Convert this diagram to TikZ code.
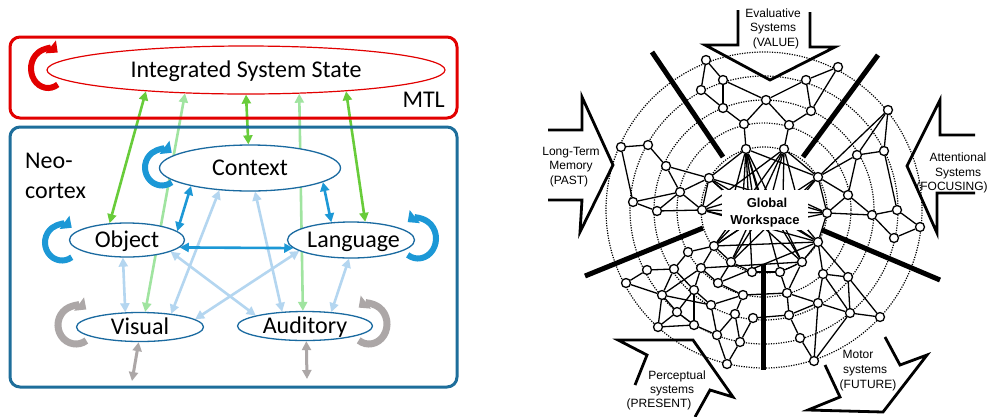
\documentclass[tikz,border=0pt]{standalone}
\usepackage{fontspec}
\setmainfont{Carlito}
\newfontfamily\arialf{Liberation Sans}
\usetikzlibrary{arrows.meta,shapes.geometric,calc}
\pgfdeclarelayer{back}
\pgfdeclarelayer{mid}
\pgfsetlayers{back,mid,main}
\definecolor{mtlred}{RGB}{226,0,0}
\definecolor{ncblue}{RGB}{30,110,155}
\definecolor{elblue}{RGB}{26,106,160}
\definecolor{dblue}{RGB}{28,152,214}
\definecolor{lblue}{RGB}{180,214,240}
\definecolor{dgreen}{RGB}{104,204,58}
\definecolor{lgreen}{RGB}{160,228,160}
\definecolor{agrey}{RGB}{172,167,167}
\begin{document}
\begin{tikzpicture}[x=1pt,y=-1pt,
  region/.style={rectangle, rounded corners=10pt, line width=3pt, inner sep=0pt},
  txt/.style={font=\fontsize{24}{30}\selectfont, inner sep=0pt},
  el/.style={ellipse, draw=elblue, line width=1.3pt, fill=white, inner sep=0pt,
    font=\fontsize{24}{30}\selectfont, text height=15.5pt, text depth=0pt},
  link/.style={arrows={Triangle[length=9pt,width=9pt]-Triangle[length=9pt,width=9pt]}, line width=2.6pt},
  loopc/.style={line width=6pt, arrows={-Triangle[length=9pt,width=16pt]}},
  nd/.style={circle, draw, line width=1.3pt, fill=white, inner sep=0pt, minimum size=9pt},
  net/.style={line width=1.3pt},
  bar/.style={line width=5pt},
  ring/.style={line width=1.2pt, dash pattern=on 1.2pt off 1.3pt},
  sysarrow/.style={line width=2.8pt, line join=miter},
  lab/.style={font=\arialf\fontsize{12}{14}\selectfont, anchor=base, inner sep=0pt},
  gwtxt/.style={font=\arialf\bfseries\fontsize{13}{15}\selectfont, anchor=base, inner sep=0pt},
]
\begin{pgfonlayer}{back}
\fill[white] (0,0) rectangle (992,416);
\end{pgfonlayer}
\useasboundingbox (0,0) rectangle (992,416);

% ================= LEFT DIAGRAM =================
\node[region, draw=mtlred, minimum width=447pt, minimum height=81pt] (mtl) at (233.5,77.5) {};
\node[region, draw=ncblue, minimum width=447pt, minimum height=260pt] (neo) at (233.5,257) {};
\node[txt, anchor=base east] (mtllab) at (445,107) {MTL};
\node[txt, anchor=base west] (neo1) at (25,168) {Neo-};
\node[txt, anchor=base west] (neo2) at (25,198) {cortex};

\node[el, draw=mtlred, line width=1.2pt, minimum width=398pt, minimum height=48pt] (iss) at (246,70) {Integrated System State};
\node[el, minimum width=181pt, minimum height=46pt] (ctx) at (250,168) {Context};
\node[el, minimum width=115pt, minimum height=34pt] (obj) at (127,240) {Object};
\node[el, minimum width=127pt, minimum height=36pt] (lang) at (351,240) {\makebox[0pt]{\hspace{5pt}Language}};
\node[el, minimum width=127pt, minimum height=29pt] (vis) at (140,327) {Visual};
\node[el, minimum width=135pt, minimum height=29pt] (aud) at (305,326) {Auditory};

\coordinate (vbot) at (132,381);
\coordinate (abot) at (307,379);

\begin{pgfonlayer}{mid}
% light blue
\draw[link, lblue] (ctx.216) -- (vis.23);
\draw[link, lblue] (ctx.282) -- (aud.148);
\draw[link, lblue] (obj.257) -- (vis.135);
\draw[link, lblue] (lang.264) -- (aud.28);
\draw[link, lblue] (obj.345) -- (aud.168);
\draw[link, lblue] (lang.192) -- (vis.8);
% light green
\draw[link, lgreen] (iss.201) -- (vis.71);
\draw[link, lgreen] (iss.336) -- (aud.98);
% dark green
\draw[link, dgreen] (iss.192) -- (obj.136);
\draw[link, dgreen] (iss.south) -- (ctx.94);
\draw[link, dgreen] (iss.348) -- (lang.52);
% dark blue
\draw[link, dblue] (ctx.197) -- (obj.10);
\draw[link, dblue] (ctx.349) -- (lang.138);
\draw[link, dblue] (obj.-8) -- (lang.188);
% grey
\draw[link, agrey, line width=3pt] (vis.265) -- (vbot);
\draw[link, agrey, line width=3pt] (aud.275) -- (abot);
\end{pgfonlayer}

% loops
\coordinate (lpR) at (48,68.5);
\coordinate (lpC) at (162,167.5);
\coordinate (lpO) at (62,242.5);
\coordinate (lpL) at (418,238.5);
\coordinate (lpV) at (76,325);
\coordinate (lpA) at (369,324);
\draw[loopc, mtlred] ($(lpR)+(55:17 and 19.5)$) arc[start angle=55, end angle=305, x radius=17, y radius=19.5];
\draw[loopc, dblue] ($(lpC)+(55:17 and 18)$) arc[start angle=55, end angle=305, x radius=17, y radius=18];
\draw[loopc, dblue] ($(lpO)+(55:17 and 18)$) arc[start angle=55, end angle=305, x radius=17, y radius=18];
\draw[loopc, dblue] ($(lpL)+(125:18 and 20)$) arc[start angle=125, end angle=-125, x radius=18, y radius=20];
\draw[loopc, agrey, line width=7pt] ($(lpV)+(55:18 and 19)$) arc[start angle=55, end angle=305, x radius=18, y radius=19];
\draw[loopc, agrey, line width=7pt] ($(lpA)+(125:18 and 20)$) arc[start angle=125, end angle=-125, x radius=18, y radius=20];

% ================= RIGHT DIAGRAM =================
\coordinate (ctr) at (764,210);
\begin{pgfonlayer}{back}
\foreach \r in {63,87,110,134,158} \draw[ring] (ctr) circle[radius=\r];
\end{pgfonlayer}

\foreach \n/\x/\y in {A1/706/60, A2/723/80, A3/701/90, A4/723/108, A5/766/100, A6/744/124, A7/789/125, A8/806/80, A9/811/111, A10/838/67, A11/746/149, A12/784/149,
 B1/621/147, B2/648/145, B3/666/166, B4/680/192, B5/709/178, B6/633/202, B7/657/211, B8/702/210,
 C1/888/110, C2/857/155, C3/884/151, C4/818/177, C5/848/195, C6/827/213, C7/872/215, C8/897/210, C9/920/227, C10/894/238,
 D1/818/242, D2/802/262, D3/823/274, D4/848/277, D5/780/272, D6/787/293, D7/818/303, D8/850/313, D9/880/317, D10/789/315, D11/800/338, D12/814/361,
 E1/714/246, E2/688/252, E3/731/262, E4/647/270, E5/626/283, E6/674/269, E7/701/268, E8/718/283, E9/752/272, E10/662/295, E11/694/290, E12/711/305, E13/677/312, E14/735/314, E15/753/318, E16/658/327, E17/694/325, E18/717/335, E19/740/342, E20/727/364, E21/743/295}
  \node[nd] (\n) at (\x,\y) {};

\node[rectangle, fill=white, inner sep=0pt, minimum width=86pt, minimum height=40pt] (gw) at (765,210) {};
\node[gwtxt] (gwt1) at (767,207) {Global};
\node[gwtxt] (gwt2) at (765,224) {Workspace};

\begin{pgfonlayer}{mid}
\foreach \a/\b in {A1/A2, A1/A3, A3/A4, A2/A4, A2/A5, A4/A6, A5/A6, A5/A7, A5/A8, A8/A10, A8/A9, A10/A9, A9/A7, A6/A11, A7/A12, A12/C4, A11/C4, A11/B5,
 B1/B2, B1/B6, B2/B3, B3/B4, B3/B5, B4/B6, B4/B7, B4/B5, B5/B8, B6/B7, B7/B8, B4/B8,
 C1/C2, C1/C3, C1/C4, C2/C3, C2/C5, C2/C4, C3/C8, C4/C5, C5/C6, C4/C6, C5/C7, C6/C7, C7/C8, C7/C10, C8/C9, C9/C10, C6/D1,
 D1/D2, D1/D3, D1/D4, D2/D5, D2/D6, D5/D6, D3/D4, D3/D7, D3/D8, D4/D8, D4/D9, D8/D9, D6/D7, D6/D10, D7/D10, D7/D8, D10/D11, D11/D12, D7/D12, D8/D12,
 E1/E2, E1/E7, E2/E6, E4/E5, E4/E6, E6/E10, E6/E11, E7/E10, E7/E11, E7/E8, E3/E8, E1/E3, E10/E13, E10/E16, E10/E12, E11/E13, E11/E12, E11/E17, E13/E17, E16/E17, E13/E16, E12/E18, E17/E18, E12/E21, E21/E14, E14/E18, E14/E19, E15/E19, E18/E20, E19/E20, E15/D10, E21/D6, E8/E21, E3/E9, E9/D5, E5/E10,
 B8/C6, B8/D1, B5/C6, B5/D2, E1/C4, E1/D1, E3/C4, E3/A12, A11/D2, A11/D5, A12/E1, A12/B8, E9/A11, D1/B5, E7/D2, E8/D1}
  \draw[net] (\a) -- (\b);
\foreach \h/\dx/\dy in {A11/-32/-12, A11/-22/-12, A11/-12/-12, A11/-4/-12, A12/6/-12, A12/18/-12, A12/32/-12, B8/-36/-8, B8/-36/6, C6/38/-8, C6/38/8, E1/-30/14, E1/-18/14, D1/26/14, D1/36/12, E3/-10/14, D2/14/14, B5/-30/-10, C4/34/-10}
  \draw[net] (\h) -- ($(gw)+(\dx,\dy)$);
\end{pgfonlayer}

% thick separators
\draw[bar] (652,52) -- (723,157);
\draw[bar] (878,55) -- (803,157);
\draw[bar] (822,230) -- (940,280);
\draw[bar] (585,276) -- (703,228);
\draw[bar] (763,265) -- (763,370);

% system arrows
\draw[sysarrow] (738,10) -- (738,45) -- (705,45) -- (770,80) -- (835,47) -- (810,47) -- (810,12);
\draw[sysarrow] (975,135) -- (940,135) -- (940,100) -- (907,166) -- (937,233) -- (937,193) -- (975,193);
\draw[sysarrow] (885,337) -- (900,365) -- (927,355) -- (883,412) -- (808,410) -- (840,397) -- (825,365);
\draw[sysarrow] (635,385) -- (647,355) -- (618,340) -- (693,340) -- (733,397) -- (710,390) -- (695,417);
\draw[sysarrow] (548,130) -- (582,130) -- (582,97) -- (613,165) -- (580,232) -- (582,200) -- (548,200);

% labels
\node[lab] (ev1) at (773,17) {Evaluative};
\node[lab] (ev2) at (773,31.5) {Systems};
\node[lab] (ev3) at (776,46) {(VALUE)};
\node[lab] (lt1) at (571,155) {Long-Term};
\node[lab] (lt2) at (571,169) {Memory};
\node[lab] (lt3) at (569,184) {(PAST)};
\node[lab] (at1) at (958,161) {Attentional};
\node[lab] (at2) at (958,176) {Systems};
\node[lab] (at3) at (952,190) {(FOCUSING)};
\node[lab] (pe1) at (677,379) {Perceptual};
\node[lab] (pe2) at (672,393) {systems};
\node[lab] (pe3) at (659,407) {(PRESENT)};
\node[lab] (mo1) at (858,358) {Motor};
\node[lab] (mo2) at (865,373) {systems};
\node[lab] (mo3) at (868,388) {(FUTURE)};
\end{tikzpicture}
\end{document}
